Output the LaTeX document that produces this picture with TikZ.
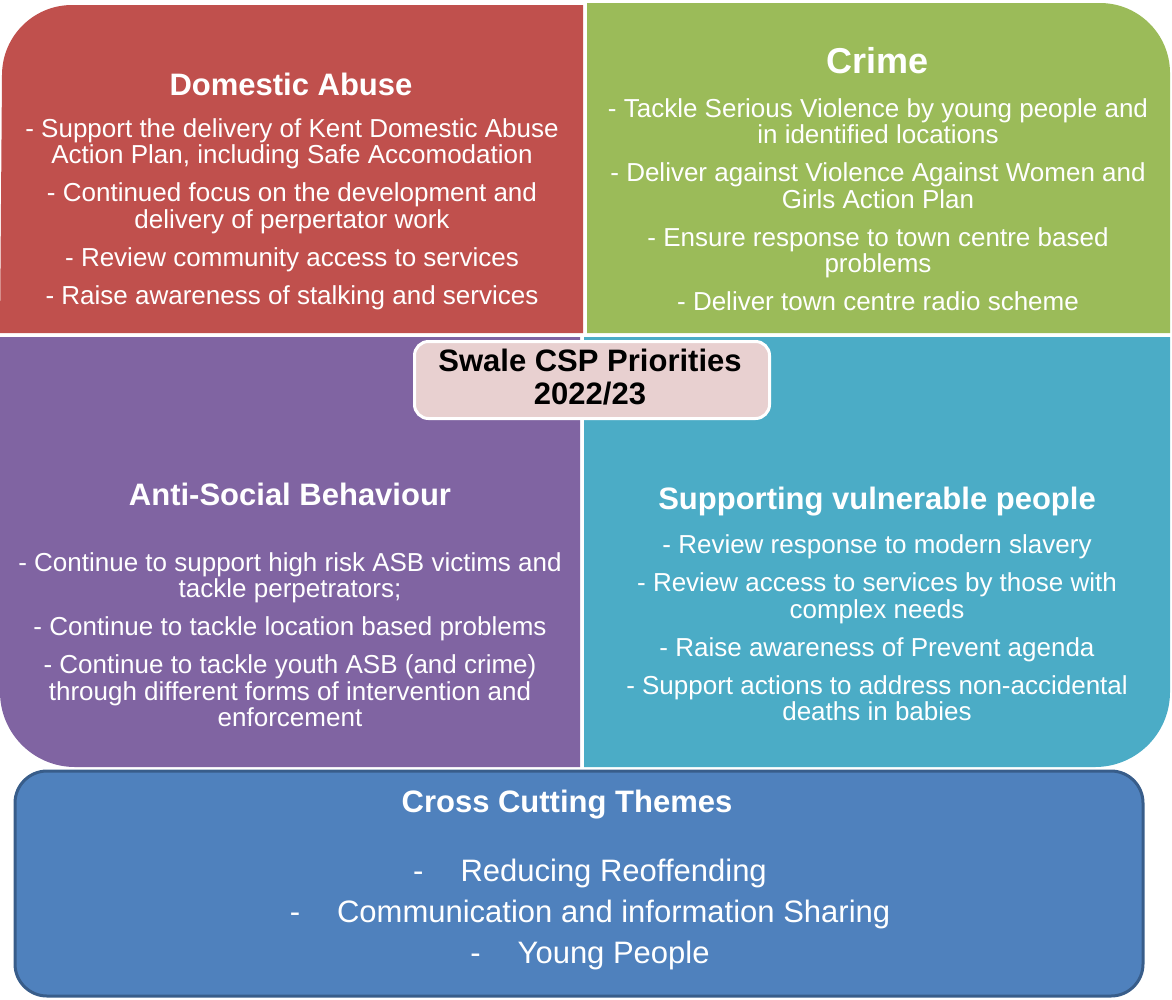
\documentclass[tikz,border=0pt]{standalone}
\usepackage{fontspec}
\setmainfont{Liberation Sans}
\usepackage{tikz}
\usetikzlibrary{positioning}
\definecolor{daRed}{HTML}{C0504D}
\definecolor{crimeGreen}{HTML}{9BBB59}
\definecolor{asbPurple}{HTML}{8064A2}
\definecolor{vulnTeal}{HTML}{4BACC6}
\definecolor{crossBlue}{HTML}{4F81BD}
\definecolor{crossLine}{HTML}{385D8A}
\definecolor{centrePink}{HTML}{E8D0D0}

\begin{document}
\begin{tikzpicture}[x=1pt,y=-1pt,
  quadtitle/.style={text=white,inner sep=0pt,font=\fontsize{31}{33}\selectfont\bfseries},
  quadtext/.style={text=white,inner sep=0pt,align=center,font=\fontsize{26}{26.5}\selectfont},
  crosstext/.style={text=white,inner sep=0pt,align=center,font=\fontsize{31}{41}\selectfont}]
 \useasboundingbox (0,0) rectangle (1172,999);
 % four quadrants
 \fill[daRed] (0,333) -- (2,75) arc[start angle=180,end angle=270,radius=70] -- (583,5) -- (583,333) -- cycle;
 \fill[crimeGreen] (587,333) -- (587,3) -- (1100,3) arc[start angle=270,end angle=360,radius=70] -- (1170,333) -- cycle;
 \fill[asbPurple] (0,337) -- (0,692) arc[start angle=180,end angle=90,radius=75] -- (580,767) -- (580,337) -- cycle;
 \fill[vulnTeal] (584,337) -- (1170,337) -- (1170,692) arc[start angle=0,end angle=90,radius=75] -- (584,767) -- cycle;
 \draw[fill=crossBlue,draw=crossLine,line width=3pt,rounded corners=32pt] (15,771) rectangle (1143,996);

 \node[quadtitle] (daTitle) at (291,84) {Domestic Abuse};
 \node[quadtext] (daText) at (292,214) {- Support the delivery of Kent Domestic Abuse\\Action Plan, including Safe Accomodation\\[11.5pt]
  - Continued focus on the development and\\delivery of perpertator work\\[11.5pt]
  - Review community access to services\\[11.5pt]
  - Raise awareness of stalking and services};

 \node[quadtitle,font=\fontsize{36}{38}\selectfont\bfseries] (crimeTitle) at (878,61) {Crime};
 \node[quadtext] (crimeText) at (878,204.5) {- Tackle Serious Violence by young people and\\in identified locations\\[11.5pt]
  - Deliver against Violence Against Women and\\Girls Action Plan\\[11.5pt]
  - Ensure response to town centre based\\problems\\[11.5pt]
  - Deliver town centre radio scheme};

 \node[quadtitle] (asbTitle) at (290,494) {Anti-Social Behaviour};
 \node[quadtext] (asbText) at (290,639.5) {- Continue to support high risk ASB victims and\\tackle perpetrators;\\[11.5pt]
  - Continue to tackle location based problems\\[11.5pt]
  - Continue to tackle youth ASB (and crime)\\through different forms of intervention and\\enforcement};

 \node[quadtitle] (vulnTitle) at (877,502) {Supporting vulnerable people};
 \node[quadtext] (vulnText) at (877,628) {- Review response to modern slavery\\[11.5pt]
  - Review access to services by those with\\complex needs\\[11.5pt]
  - Raise awareness of Prevent agenda\\[11.5pt]
  - Support actions to address non-accidental\\deaths in babies};

 % centre label
 \node[fill=centrePink,draw=white,line width=3pt,rounded corners=14pt,
  minimum width=355pt,minimum height=77pt] (centre) at (592,380) {};
 \node[align=center,inner sep=0pt,font=\fontsize{31}{33}\selectfont\bfseries] (centreText) at (590,377) {Swale CSP Priorities\\2022/23};

 \node[quadtitle] (crossTitle) at (567,805) {Cross Cutting Themes};
 \node[crosstext] (crossText) at (590,914) {-\hspace{37pt}Reducing Reoffending\\
  -\hspace{37pt}Communication and information Sharing\\
  -\hspace{37pt}Young People};
\end{tikzpicture}
\end{document}
